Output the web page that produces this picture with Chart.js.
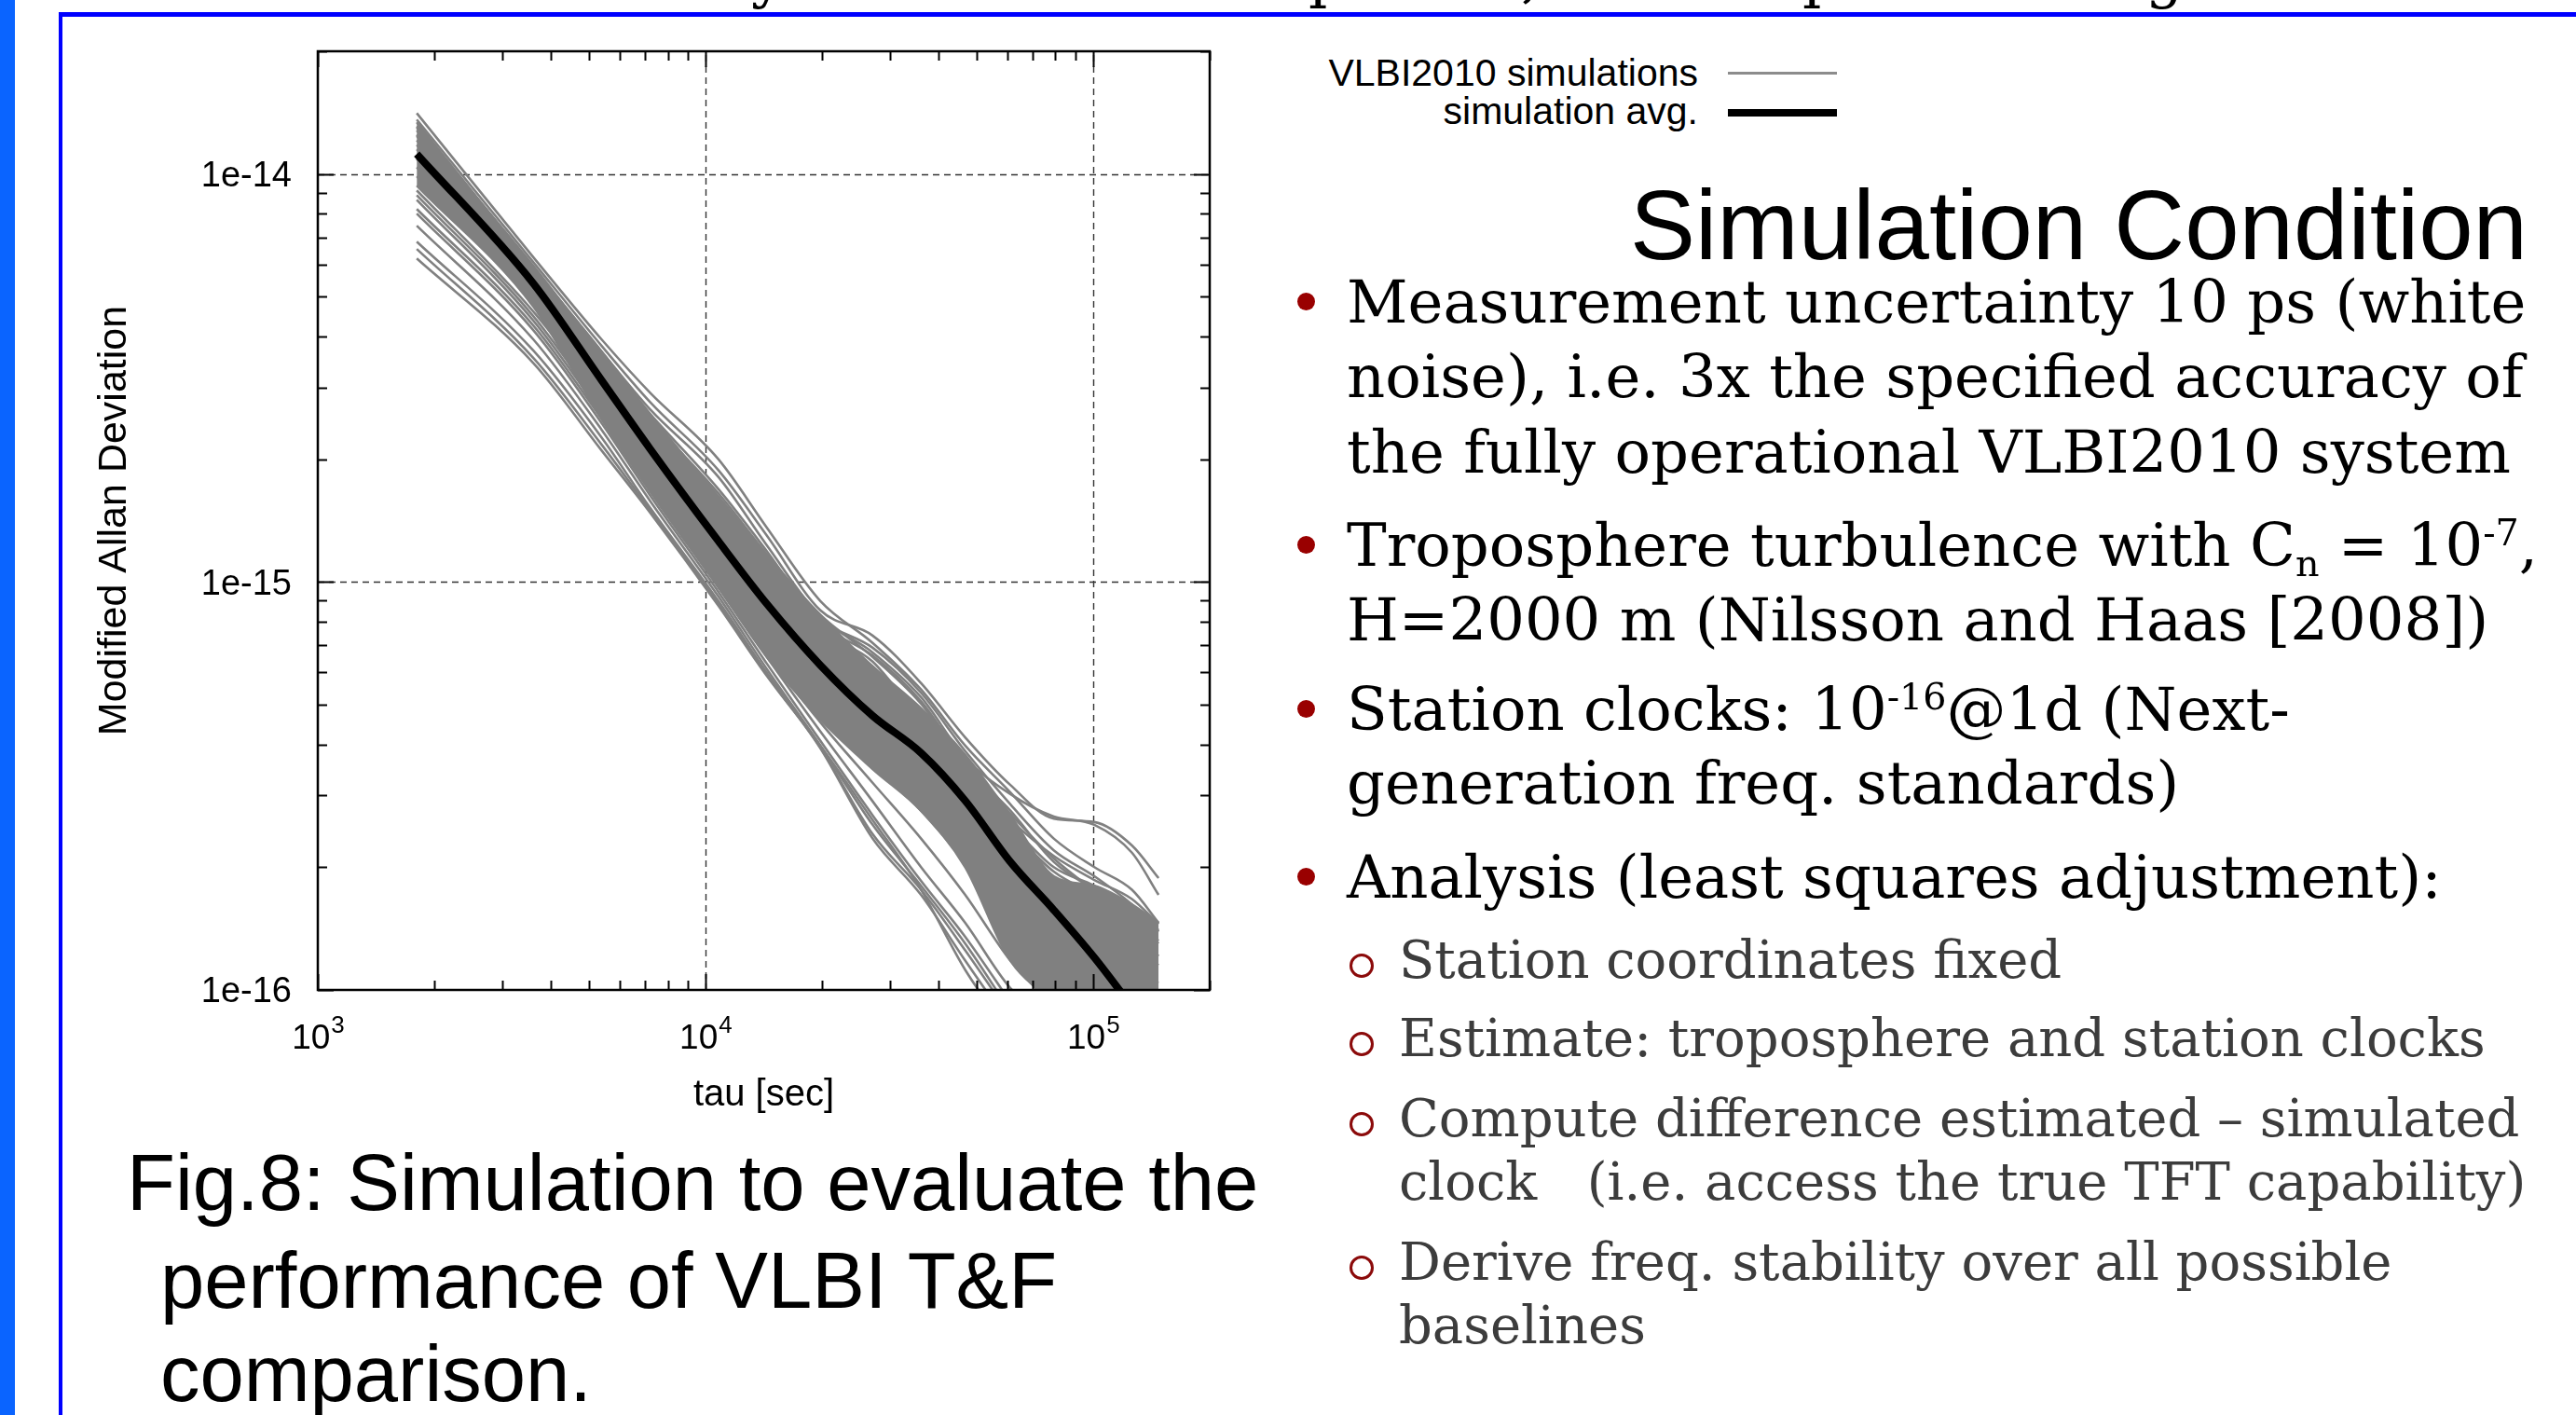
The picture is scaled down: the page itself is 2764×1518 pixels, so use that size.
<!DOCTYPE html>
<html>
<head>
<meta charset="utf-8">
<script src="https://cdn.jsdelivr.net/npm/chart.js"></script>
<style>
  body { margin: 0; width: 2764px; height: 1518px; overflow: hidden; background: #fff; position: relative; }
  .t { position: absolute; white-space: pre; line-height: 1; }
  .sans { font-family: "Liberation Sans", Arial, sans-serif; }
  .serif { font-family: "DejaVu Serif", serif; }
  .main { font-size: 64px; color: #000; left: 1445px; }
  .subtxt { font-size: 56px; color: #3c3c3c; left: 1501px; }
  .sub { font-size: 0.62em; position: relative; top: 0.28em; }
  .sup { font-size: 0.62em; position: relative; top: -0.55em; }
  .dot { position: absolute; width: 19px; height: 19px; border-radius: 50%; background: #990000; left: 1392px; }
  .ring { position: absolute; width: 20px; height: 20px; border-radius: 50%; border: 3px solid #8b0a0a; left: 1448px; }
  #chart { position: absolute; left: 66px; top: 20px; }
</style>
</head>
<body>
<!-- barra azul de la izquierda y marco del poster -->
<div style="position:absolute;left:0;top:0;width:16px;height:1518px;background:#0a64ff"></div>
<div style="position:absolute;left:63px;top:13px;width:2800px;height:1600px;border-top:5px solid #0000ff;border-left:4px solid #0000ff"></div>

<!-- restos del texto cortado arriba -->
<div class="t serif" style="font-size:64px;top:-58px;left:806px">y</div>
<div class="t serif" style="font-size:64px;top:-58px;left:1404px">p</div>
<div class="t serif" style="font-size:64px;top:-58px;left:1632px">,</div>
<div class="t serif" style="font-size:64px;top:-58px;left:1934px">p</div>
<div class="t serif" style="font-size:64px;top:-58px;left:2302px">g</div>

<canvas id="chart" width="1330" height="1210"></canvas>

<!-- leyenda -->
<div class="t sans" style="font-size:41px;right:942px;top:58px;text-align:right">VLBI2010 simulations</div>
<div class="t sans" style="font-size:41px;right:942px;top:99px;text-align:right">simulation avg.</div>
<div style="position:absolute;left:1854px;top:77px;width:117px;height:3px;background:#8c8c8c"></div>
<div style="position:absolute;left:1854px;top:117px;width:117px;height:8px;background:#000"></div>

<!-- texto del poster -->
<div class="t sans" style="font-size:105px;right:52px;top:189px">Simulation Condition</div>

<div class="dot" style="top:314px"></div>
<div class="t serif main" style="top:292px">Measurement uncertainty 10 ps (white</div>
<div class="t serif main" style="top:372px">noise), i.e. 3x the specified accuracy of</div>
<div class="t serif main" style="top:453px">the fully operational VLBI2010 system</div>

<div class="dot" style="top:575px"></div>
<div class="t serif main" style="top:553px">Troposphere turbulence with C<span class="sub">n</span> = 10<span class="sup">-7</span>,</div>
<div class="t serif main" style="top:633px">H=2000 m (Nilsson and Haas [2008])</div>

<div class="dot" style="top:751px"></div>
<div class="t serif main" style="top:729px">Station clocks: 10<span class="sup">-16</span>@1d (Next-</div>
<div class="t serif main" style="top:808px">generation freq. standards)</div>

<div class="dot" style="top:931px"></div>
<div class="t serif main" style="top:909px">Analysis (least squares adjustment):</div>

<div class="ring" style="top:1023px"></div>
<div class="t serif subtxt" style="top:1002px">Station coordinates fixed</div>
<div class="ring" style="top:1107px"></div>
<div class="t serif subtxt" style="top:1086px">Estimate: troposphere and station clocks</div>
<div class="ring" style="top:1193px"></div>
<div class="t serif subtxt" style="top:1172px">Compute difference estimated – simulated</div>
<div class="t serif subtxt" style="top:1240px">clock   (i.e. access the true TFT capability)</div>
<div class="ring" style="top:1347px"></div>
<div class="t serif subtxt" style="top:1326px">Derive freq. stability over all possible</div>
<div class="t serif subtxt" style="top:1394px">baselines</div>

<!-- pie de figura -->
<div class="t sans" style="font-size:85px;left:136px;top:1226px">Fig.8: Simulation to evaluate the</div>
<div class="t sans" style="font-size:85px;left:172px;top:1331px">performance of VLBI T&amp;F</div>
<div class="t sans" style="font-size:85px;left:172px;top:1431px">comparison.</div>

<script>
// valores de tau (eje x) donde se leyeron las curvas
const tau = [1800, 3600, 5400, 7200, 10800, 14400, 19800, 27000, 36000, 46800, 61200, 79200, 100800, 126000, 147600];

// promedio de las simulaciones (linea negra)
const simAvg = [1.12e-14, 5.39e-15, 3.12e-15, 2.12e-15, 1.26e-15, 8.84e-16, 6.25e-16, 4.70e-16, 3.81e-16, 2.91e-16, 2.06e-16, 1.57e-16, 1.20e-16, 9.10e-17];

// zona central donde las curvas grises se superponen
const bandTop = [1.34e-14, 5.89e-15, 3.67e-15, 2.58e-15, 1.61e-15, 1.15e-15, 8.30e-16, 6.21e-16, 4.90e-16, 3.77e-16, 2.68e-16, 1.90e-16, 1.80e-16, 1.62e-16, 1.46e-16];
const bandBottom = [9.37e-15, 4.73e-15, 2.51e-15, 1.67e-15, 9.71e-16, 6.55e-16, 4.60e-16, 3.48e-16, 2.75e-16, 2.00e-16, 1.18e-16, 9.59e-17, 9.10e-17, 9.10e-17, 9.10e-17];

// curvas individuales de las simulaciones VLBI2010
const sim01 = [1.41e-14, 6.25e-15, 3.93e-15, 2.91e-15, 2.00e-15, 1.36e-15, 8.98e-16, 7.09e-16, 5.45e-16, 3.97e-16, 3.05e-16, 2.35e-16, 2.00e-16, 1.76e-16, 1.46e-16];
const sim02 = [1.36e-14, 6.08e-15, 3.79e-15, 2.76e-15, 1.88e-15, 1.30e-15, 8.52e-16, 7.39e-16, 5.65e-16, 4.16e-16, 3.18e-16, 2.63e-16, 2.58e-16, 2.26e-16, 1.88e-16];
const sim03 = [1.31e-14, 5.89e-15, 3.67e-15, 2.65e-15, 1.81e-15, 1.23e-15, 8.21e-16, 6.72e-16, 5.22e-16, 3.71e-16, 3.02e-16, 2.66e-16, 2.54e-16, 2.17e-16, 1.71e-16];
const sim04 = [1.28e-14, 5.83e-15, 3.54e-15, 2.58e-15, 1.69e-15, 1.19e-15, 7.87e-16, 6.21e-16, 4.78e-16, 3.39e-16, 2.61e-16, 2.13e-16, 1.86e-16, 1.67e-16, 1.45e-16];
const sim05 = [1.25e-14, 5.77e-15, 3.48e-15, 2.51e-15, 1.65e-15, 1.17e-15, 8.30e-16, 6.55e-16, 5.03e-16, 3.57e-16, 2.75e-16, 2.06e-16, 1.76e-16, 1.54e-16, 1.39e-16];
const sim06 = [1.21e-14, 5.68e-15, 3.44e-15, 2.45e-15, 1.61e-15, 1.14e-15, 7.47e-16, 5.89e-16, 4.19e-16, 3.05e-16, 2.47e-16, 1.95e-16, 1.71e-16, 1.50e-16, 1.32e-16];
const sim07 = [1.18e-14, 5.59e-15, 3.41e-15, 2.41e-15, 1.56e-15, 1.11e-15, 7.67e-16, 6.38e-16, 4.53e-16, 3.22e-16, 2.54e-16, 2.00e-16, 1.80e-16, 1.58e-16, 1.39e-16];
const sim08 = [1.15e-14, 5.53e-15, 3.36e-15, 2.36e-15, 1.50e-15, 1.07e-15, 7.09e-16, 5.45e-16, 3.97e-16, 2.87e-16, 2.29e-16, 1.80e-16, 1.58e-16, 1.39e-16, 1.21e-16];
const sim09 = [1.09e-14, 5.25e-15, 3.07e-15, 2.07e-15, 1.20e-15, 8.52e-16, 5.99e-16, 4.53e-16, 3.67e-16, 2.82e-16, 2.06e-16, 1.62e-16, 1.39e-16, 1.25e-16, 1.15e-16];
const sim10 = [1.04e-14, 5.03e-15, 2.94e-15, 1.98e-15, 1.14e-15, 8.08e-16, 5.59e-16, 4.19e-16, 3.39e-16, 2.61e-16, 1.85e-16, 1.46e-16, 1.25e-16, 1.09e-16, 1.04e-16];
const sim11 = [9.87e-15, 4.93e-15, 2.82e-15, 1.93e-15, 1.11e-15, 7.79e-16, 5.30e-16, 3.97e-16, 3.22e-16, 2.47e-16, 1.71e-16, 1.31e-16, 1.09e-16, 9.84e-17, 9.34e-17];
const sim12 = [9.12e-15, 4.60e-15, 2.79e-15, 1.88e-15, 1.14e-15, 7.47e-16, 5.17e-16, 3.97e-16, 3.05e-16, 2.35e-16, 1.80e-16, 1.39e-16, 1.12e-16, 1.00e-16, 9.59e-17];
const sim13 = [8.88e-15, 4.48e-15, 2.65e-15, 1.79e-15, 1.07e-15, 7.09e-16, 4.78e-16, 3.57e-16, 2.75e-16, 2.06e-16, 1.50e-16, 1.12e-16, 9.34e-17, 8.63e-17];
const sim14 = [8.65e-15, 4.37e-15, 2.58e-15, 1.74e-15, 1.03e-15, 6.72e-16, 4.53e-16, 3.22e-16, 2.35e-16, 1.71e-16, 1.18e-16, 9.10e-17];
const sim15 = [8.21e-15, 4.25e-15, 2.51e-15, 1.67e-15, 9.71e-16, 6.55e-16, 4.30e-16, 2.90e-16, 2.00e-16, 1.46e-16, 1.01e-16, 8.19e-17];
const sim16 = [8.00e-15, 4.14e-15, 2.45e-15, 1.63e-15, 9.46e-16, 6.31e-16, 4.08e-16, 2.68e-16, 1.85e-16, 1.35e-16, 9.34e-17];
const sim17 = [7.47e-15, 3.93e-15, 2.36e-15, 1.58e-15, 9.22e-16, 6.12e-16, 3.97e-16, 2.54e-16, 1.80e-16, 1.30e-16, 8.86e-17];
const sim18 = [6.83e-15, 3.69e-15, 2.26e-15, 1.52e-15, 8.98e-16, 5.99e-16, 3.93e-16, 2.41e-16, 1.76e-16, 1.25e-16, 8.63e-17];
const sim19 = [6.55e-15, 3.54e-15, 2.17e-15, 1.50e-15, 8.84e-16, 5.93e-16, 3.91e-16, 2.35e-16, 1.71e-16, 1.18e-16, 8.19e-17];
const sim20 = [6.21e-15, 3.44e-15, 2.10e-15, 1.48e-15, 8.75e-16, 5.89e-16, 3.97e-16, 2.61e-16, 1.76e-16, 1.12e-16, 7.77e-17];
const sim21 = [1.30e-14, 5.95e-15, 3.60e-15, 2.55e-15, 1.62e-15, 1.16e-15, 8.10e-16, 6.90e-16, 5.35e-16, 3.85e-16, 2.85e-16, 2.20e-16, 1.90e-16, 1.62e-16, 1.40e-16];
const sim22 = [1.24e-14, 5.80e-15, 3.50e-15, 2.48e-15, 1.58e-15, 1.12e-15, 7.90e-16, 6.60e-16, 5.10e-16, 3.60e-16, 2.70e-16, 2.10e-16, 1.75e-16, 1.50e-16, 1.30e-16];

const simulations = [sim01, sim02, sim03, sim04, sim05, sim06, sim07, sim08, sim09, sim10, sim11,
  sim12, sim13, sim14, sim15, sim16, sim17, sim18, sim19, sim20, sim21, sim22];

// etiquetas de los ejes
const yLabelAt = [1e-16, 1e-15, 1e-14];
const yLabels = ['1e-16', '1e-15', '1e-14'];
const xLabelAt = [1e3, 1e4, 1e5];
const xLabelExp = ['3', '4', '5'];
const gridX = [1e4, 1e5];
const gridY = [1e-15, 1e-14];

const gray = '#808080';
const sansFont = '"Liberation Sans", Arial, sans-serif';

function pts(vals) {
  return vals.map((v, i) => ({ x: tau[i], y: v }));
}

// ticks logaritmicos 1..9 por decada
function logTicks(min, max) {
  const out = [];
  for (let e = Math.floor(Math.log10(min)); e <= Math.ceil(Math.log10(max)); e++) {
    for (let m = 1; m < 10; m++) {
      const v = m * Math.pow(10, e);
      if (v >= min * 0.999 && v <= max * 1.001) out.push({ v: v, major: m === 1 });
    }
  }
  return out;
}

// grilla punteada, marco, ticks hacia adentro y etiquetas estilo gnuplot
const gnuplotFrame = {
  id: 'gnuplotFrame',
  beforeDatasetsDraw(chart) {
    const { ctx, chartArea: a, scales: { x, y } } = chart;
    ctx.save();
    ctx.strokeStyle = '#333';
    ctx.lineWidth = 1.4;
    ctx.setLineDash([7, 5]);
    gridX.forEach(v => {
      const px = Math.round(x.getPixelForValue(v)) + 0.5;
      ctx.beginPath(); ctx.moveTo(px, a.bottom); ctx.lineTo(px, a.top); ctx.stroke();
    });
    gridY.forEach(v => {
      const py = Math.round(y.getPixelForValue(v)) + 0.5;
      ctx.beginPath(); ctx.moveTo(a.left, py); ctx.lineTo(a.right, py); ctx.stroke();
    });
    ctx.restore();
  },
  afterDatasetsDraw(chart) {
    const { ctx, chartArea: a, scales: { x, y } } = chart;
    ctx.save();
    ctx.strokeStyle = '#000';
    ctx.lineWidth = 2;
    logTicks(x.min, x.max).forEach(t => {
      const px = Math.round(x.getPixelForValue(t.v)) + 0.5;
      const len = t.major ? 17 : 10;
      ctx.beginPath();
      ctx.moveTo(px, a.bottom); ctx.lineTo(px, a.bottom - len);
      ctx.moveTo(px, a.top); ctx.lineTo(px, a.top + len);
      ctx.stroke();
    });
    logTicks(y.min, y.max).forEach(t => {
      const py = Math.round(y.getPixelForValue(t.v)) + 0.5;
      const len = t.major ? 17 : 10;
      ctx.beginPath();
      ctx.moveTo(a.left, py); ctx.lineTo(a.left + len, py);
      ctx.moveTo(a.right, py); ctx.lineTo(a.right - len, py);
      ctx.stroke();
    });
    ctx.lineWidth = 2.5;
    ctx.strokeRect(a.left, a.top, a.right - a.left, a.bottom - a.top);

    ctx.fillStyle = '#000';
    ctx.font = '38px ' + sansFont;
    ctx.textAlign = 'right';
    ctx.textBaseline = 'middle';
    yLabelAt.forEach((v, i) => {
      ctx.fillText(yLabels[i], a.left - 28, y.getPixelForValue(v) + 3);
    });

    ctx.textAlign = 'left';
    ctx.textBaseline = 'alphabetic';
    xLabelAt.forEach((v, i) => {
      const px = x.getPixelForValue(v);
      ctx.font = '37px ' + sansFont;
      const w1 = ctx.measureText('10').width;
      ctx.font = '26px ' + sansFont;
      const w2 = ctx.measureText(xLabelExp[i]).width;
      const start = px - (w1 + w2) / 2;
      ctx.font = '37px ' + sansFont;
      ctx.fillText('10', start, a.bottom + 63);
      ctx.font = '26px ' + sansFont;
      ctx.fillText(xLabelExp[i], start + w1 + 1, a.bottom + 46);
    });

    ctx.font = '40px ' + sansFont;
    ctx.textAlign = 'center';
    ctx.fillText('tau [sec]', (a.left + a.right) / 2, a.bottom + 124);

    ctx.translate(a.left - 218, (a.top + a.bottom) / 2);
    ctx.rotate(-Math.PI / 2);
    ctx.font = '43px ' + sansFont;
    ctx.textBaseline = 'middle';
    ctx.fillText('Modified Allan Deviation', 0, 0);
    ctx.restore();
  }
};

const datasets = [];
datasets.push({
  label: 'simulation avg.',
  data: pts(simAvg),
  borderColor: '#000',
  borderWidth: 8,
  order: 0
});
simulations.forEach((s, i) => {
  datasets.push({
    label: 'VLBI2010 simulations ' + (i + 1),
    data: pts(s),
    borderColor: gray,
    borderWidth: 2.6,
    order: 1
  });
});
datasets.push({
  label: 'band top',
  data: pts(bandTop),
  borderColor: gray,
  borderWidth: 2.6,
  fill: false,
  order: 2
});
datasets.push({
  label: 'band bottom',
  data: pts(bandBottom),
  borderColor: gray,
  borderWidth: 2.6,
  backgroundColor: gray,
  fill: '-1',
  order: 2
});

const ctx = document.getElementById('chart');
const chart = new Chart(ctx, {
  type: 'line',
  data: { datasets: datasets },
  options: {
    responsive: false,
    animation: false,
    devicePixelRatio: 1,
    layout: { padding: { left: 275, top: 35, right: 98, bottom: 168 } },
    elements: {
      point: { radius: 0 },
      line: { cubicInterpolationMode: 'monotone', borderCapStyle: 'butt' }
    },
    datasets: { line: { clip: 0 } },
    plugins: { legend: { display: false }, tooltip: { enabled: false } },
    scales: {
      x: { type: 'logarithmic', min: 1000, max: 200000, display: false },
      y: { type: 'logarithmic', min: 1e-16, max: 2e-14, display: false }
    }
  },
  plugins: [gnuplotFrame]
});
</script>
</body>
</html>
